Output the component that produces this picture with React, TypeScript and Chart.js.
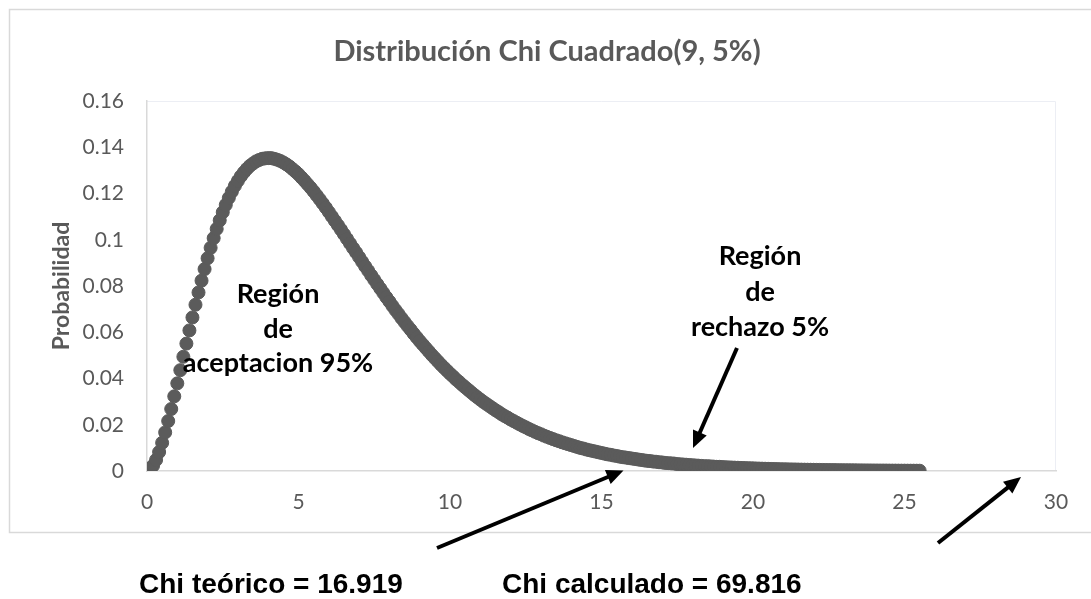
import React, { useEffect, useRef } from 'react';
import { Chart, registerables } from 'chart.js';

Chart.register(...registerables);

// ---------- data ----------
const X_VALUES = [
  0, 0.1, 0.2, 0.3, 0.4, 0.5, 0.6, 0.7, 0.8, 0.9,
  1, 1.1, 1.2, 1.3, 1.4, 1.5, 1.6, 1.7, 1.8, 1.9,
  2, 2.1, 2.2, 2.3, 2.4, 2.5, 2.6, 2.7, 2.8, 2.9,
  3, 3.1, 3.2, 3.3, 3.4, 3.5, 3.6, 3.7, 3.8, 3.9,
  4, 4.1, 4.2, 4.3, 4.4, 4.5, 4.6, 4.7, 4.8, 4.9,
  5, 5.1, 5.2, 5.3, 5.4, 5.5, 5.6, 5.7, 5.8, 5.9,
  6, 6.1, 6.2, 6.3, 6.4, 6.5, 6.6, 6.7, 6.8, 6.9,
  7, 7.1, 7.2, 7.3, 7.4, 7.5, 7.6, 7.7, 7.8, 7.9,
  8, 8.1, 8.2, 8.3, 8.4, 8.5, 8.6, 8.7, 8.8, 8.9,
  9, 9.1, 9.2, 9.3, 9.4, 9.5, 9.6, 9.7, 9.8, 9.9,
  10, 10.1, 10.2, 10.3, 10.4, 10.5, 10.6, 10.7, 10.8, 10.9,
  11, 11.1, 11.2, 11.3, 11.4, 11.5, 11.6, 11.7, 11.8, 11.9,
  12, 12.1, 12.2, 12.3, 12.4, 12.5, 12.6, 12.7, 12.8, 12.9,
  13, 13.1, 13.2, 13.3, 13.4, 13.5, 13.6, 13.7, 13.8, 13.9,
  14, 14.1, 14.2, 14.3, 14.4, 14.5, 14.6, 14.7, 14.8, 14.9,
  15, 15.1, 15.2, 15.3, 15.4, 15.5, 15.6, 15.7, 15.8, 15.9,
  16, 16.1, 16.2, 16.3, 16.4, 16.5, 16.6, 16.7, 16.8, 16.9,
  17, 17.1, 17.2, 17.3, 17.4, 17.5, 17.6, 17.7, 17.8, 17.9,
  18, 18.1, 18.2, 18.3, 18.4, 18.5, 18.6, 18.7, 18.8, 18.9,
  19, 19.1, 19.2, 19.3, 19.4, 19.5, 19.6, 19.7, 19.8, 19.9,
  20, 20.1, 20.2, 20.3, 20.4, 20.5, 20.6, 20.7, 20.8, 20.9,
  21, 21.1, 21.2, 21.3, 21.4, 21.5, 21.6, 21.7, 21.8, 21.9,
  22, 22.1, 22.2, 22.3, 22.4, 22.5, 22.6, 22.7, 22.8, 22.9,
  23, 23.1, 23.2, 23.3, 23.4, 23.5, 23.6, 23.7, 23.8, 23.9,
  24, 24.1, 24.2, 24.3, 24.4, 24.5, 24.6, 24.7, 24.8, 24.9,
  25, 25.1, 25.2, 25.3, 25.4, 25.5,
];

const Y_VALUES = [
  0, 0.0006, 0.0023, 0.0048, 0.0082, 0.0122, 0.0167, 0.0216, 0.0268, 0.0323,
  0.0379, 0.0436, 0.0494, 0.0551, 0.0608, 0.0664, 0.0719, 0.0772, 0.0823, 0.0873,
  0.092, 0.0965, 0.1007, 0.1047, 0.1084, 0.1119, 0.1151, 0.1181, 0.1208, 0.1233,
  0.1255, 0.1275, 0.1292, 0.1307, 0.132, 0.133, 0.1339, 0.1345, 0.135, 0.1352,
  0.1353, 0.1353, 0.135, 0.1346, 0.1341, 0.1334, 0.1326, 0.1317, 0.1306, 0.1295,
  0.1283, 0.1269, 0.1255, 0.124, 0.1225, 0.1209, 0.1192, 0.1175, 0.1157, 0.1139,
  0.112, 0.1101, 0.1082, 0.1063, 0.1044, 0.1024, 0.1004, 0.0984, 0.0964, 0.0945,
  0.0925, 0.0905, 0.0885, 0.0866, 0.0846, 0.0827, 0.0808, 0.0789, 0.077, 0.0751,
  0.0733, 0.0714, 0.0696, 0.0679, 0.0661, 0.0644, 0.0627, 0.0611, 0.0594, 0.0578,
  0.0562, 0.0547, 0.0532, 0.0517, 0.0502, 0.0488, 0.0474, 0.046, 0.0447, 0.0434,
  0.0421, 0.0409, 0.0396, 0.0385, 0.0373, 0.0362, 0.0351, 0.034, 0.0329, 0.0319,
  0.0309, 0.0299, 0.029, 0.0281, 0.0272, 0.0263, 0.0255, 0.0246, 0.0238, 0.0231,
  0.0223, 0.0216, 0.0209, 0.0202, 0.0195, 0.0189, 0.0182, 0.0176, 0.017, 0.0164,
  0.0159, 0.0153, 0.0148, 0.0143, 0.0138, 0.0133, 0.0129, 0.0124, 0.012, 0.0116,
  0.0112, 0.0108, 0.0104, 0.01, 0.0097, 0.0093, 0.009, 0.0087, 0.0084, 0.0081,
  0.0078, 0.0075, 0.0072, 0.007, 0.0067, 0.0065, 0.0062, 0.006, 0.0058, 0.0056,
  0.0054, 0.0052, 0.005, 0.0048, 0.0046, 0.0044, 0.0043, 0.0041, 0.004, 0.0038,
  0.0037, 0.0035, 0.0034, 0.0033, 0.0032, 0.003, 0.0029, 0.0028, 0.0027, 0.0026,
  0.0025, 0.0024, 0.0023, 0.0022, 0.0021, 0.0021, 0.002, 0.0019, 0.0018, 0.0018,
  0.00169, 0.00162, 0.00156, 0.0015, 0.00144, 0.00139, 0.00133, 0.00128, 0.00123, 0.00118,
  0.00114, 0.00109, 0.00105, 0.00101, 0.00097, 0.00093, 0.00089, 0.00086, 0.00082, 0.00079,
  0.00076, 0.00073, 0.0007, 0.00067, 0.00065, 0.00062, 0.00059, 0.00057, 0.00055, 0.00053,
  0.00051, 0.00048, 0.00047, 0.00045, 0.00043, 0.00041, 0.00039, 0.00038, 0.00036, 0.00035,
  0.00033, 0.00032, 0.00031, 0.0003, 0.00028, 0.00027, 0.00026, 0.00025, 0.00024, 0.00023,
  0.00022, 0.00021, 0.0002, 0.0002, 0.00019, 0.00018, 0.00017, 0.00017, 0.00016, 0.00015,
  0.00015, 0.00014, 0.00013, 0.00013, 0.00012, 0.00012,
];

const X_TICK_LABELS = ['0', '5', '10', '15', '20', '25', '30'];
const Y_TICK_LABELS = ['0', '0.02', '0.04', '0.06', '0.08', '0.1', '0.12', '0.14', '0.16'];

const TITLE = 'Distribución Chi Cuadrado(9, 5%)';
const Y_AXIS_TITLE = 'Probabilidad';
const ACCEPT_LINES = ['Región', 'de', 'aceptacion 95%'];
const REJECT_LINES = ['Región', 'de', 'rechazo 5%'];
const CHI_TEORICO = 'Chi teórico = 16.919';
const CHI_CALCULADO = 'Chi calculado = 69.816';

// ---------- drawing helpers ----------
const GRAY_TEXT = '#595959';
const MARK = '#5b5b5b';
const CAL = 'Lato, "Open Sans", sans-serif';

function drawArrow(ctx: CanvasRenderingContext2D, x1: number, y1: number, x2: number, y2: number) {
  const ang = Math.atan2(y2 - y1, x2 - x1);
  const hl = 17;
  const hw = 7.5;
  const bx = x2 - hl * Math.cos(ang);
  const by = y2 - hl * Math.sin(ang);
  ctx.save();
  ctx.strokeStyle = '#000';
  ctx.fillStyle = '#000';
  ctx.lineWidth = 4;
  ctx.lineCap = 'butt';
  ctx.beginPath();
  ctx.moveTo(x1, y1);
  ctx.lineTo(bx + 2 * Math.cos(ang), by + 2 * Math.sin(ang));
  ctx.stroke();
  ctx.beginPath();
  ctx.moveTo(x2, y2);
  ctx.lineTo(bx + hw * Math.sin(ang), by - hw * Math.cos(ang));
  ctx.lineTo(bx - hw * Math.sin(ang), by + hw * Math.cos(ang));
  ctx.closePath();
  ctx.fill();
  ctx.restore();
}

const decorPlugin = {
  id: 'decor',
  beforeDraw(chart: any) {
    const { ctx, chartArea } = chart;
    ctx.save();
    ctx.fillStyle = '#ffffff';
    ctx.fillRect(0, 0, chart.width, chart.height);
    // outer chart border (continues past the right edge)
    ctx.strokeStyle = '#d9d9d9';
    ctx.lineWidth = 1.5;
    ctx.beginPath();
    ctx.moveTo(1095, 9.5);
    ctx.lineTo(9.5, 9.5);
    ctx.lineTo(9.5, 532.5);
    ctx.lineTo(1095, 532.5);
    ctx.stroke();
    // faint plot-area frame
    ctx.strokeStyle = '#eceef4';
    ctx.lineWidth = 1;
    ctx.beginPath();
    ctx.moveTo(chartArea.left, chartArea.top + 0.5);
    ctx.lineTo(chartArea.right - 0.5, chartArea.top + 0.5);
    ctx.lineTo(chartArea.right - 0.5, chartArea.bottom);
    ctx.stroke();
    ctx.restore();
  },
  afterDraw(chart: any) {
    const { ctx, chartArea } = chart;
    ctx.save();
    // title
    ctx.fillStyle = GRAY_TEXT;
    ctx.font = `bold 29px ${CAL}`;
    ctx.textAlign = 'center';
    ctx.textBaseline = 'alphabetic';
    ctx.fillText(TITLE, 547, 61);

    // y axis title
    ctx.save();
    ctx.translate(62, (chartArea.top + chartArea.bottom) / 2);
    ctx.rotate(-Math.PI / 2);
    ctx.font = `bold 23px ${CAL}`;
    ctx.textBaseline = 'middle';
    ctx.fillText(Y_AXIS_TITLE, 0, 0);
    ctx.restore();

    // region labels
    ctx.fillStyle = '#000';
    ctx.font = `bold 27px ${CAL}`;
    ctx.textAlign = 'center';
    ctx.textBaseline = 'alphabetic';
    const acceptBase = [303, 338, 372];
    ACCEPT_LINES.forEach((t, i) => ctx.fillText(t, 278, acceptBase[i]));
    const rejectBase = [265, 300.5, 336];
    REJECT_LINES.forEach((t, i) => ctx.fillText(t, 760, rejectBase[i]));

    // arrows
    drawArrow(ctx, 437, 548, 623.5, 470.5);
    drawArrow(ctx, 737, 348, 693, 448);
    drawArrow(ctx, 938, 543, 1021, 477);

    // bottom texts
    ctx.font = 'bold 28px "Liberation Sans", Arial, sans-serif';
    ctx.textAlign = 'left';
    ctx.fillStyle = '#000';
    ctx.fillText(CHI_TEORICO, 139, 593);
    ctx.fillText(CHI_CALCULADO, 502, 593);
    ctx.restore();
  },
};

export default function App() {
  const canvasRef = useRef<HTMLCanvasElement | null>(null);

  useEffect(() => {
    const canvas = canvasRef.current;
    if (!canvas) return;
    const points = X_VALUES.map((x, i) => ({ x, y: Y_VALUES[i] }));
    const chart = new Chart(canvas, {
      type: 'scatter',
      data: {
        datasets: [
          {
            data: points,
            pointRadius: 6.5,
            pointHoverRadius: 6.5,
            pointBackgroundColor: MARK,
            pointBorderColor: MARK,
            pointBorderWidth: 1,
            showLine: false,
          },
        ],
      },
      options: {
        responsive: false,
        animation: false,
        devicePixelRatio: 1,
        events: [],
        layout: { padding: { top: 101, right: 35, left: 0, bottom: 0 } },
        plugins: {
          legend: { display: false },
          tooltip: { enabled: false },
          title: { display: false },
        },
        scales: {
          x: {
            type: 'linear',
            min: 0,
            max: 30,
            grid: { display: false, drawTicks: false },
            border: { display: true, color: '#d9d9d9', width: 1.5 },
            ticks: {
              stepSize: 5,
              color: GRAY_TEXT,
              font: { family: CAL, size: 21 },
              padding: 19,
              maxRotation: 0,
              callback: (_v: any, i: number) => X_TICK_LABELS[i],
            },
            afterFit: (s: any) => {
              s.height = 128;
            },
          },
          y: {
            type: 'linear',
            min: 0,
            max: 0.16,
            grid: { display: false, drawTicks: false },
            border: { display: true, color: '#d9d9d9', width: 1.5 },
            ticks: {
              stepSize: 0.02,
              color: GRAY_TEXT,
              font: { family: CAL, size: 21 },
              padding: 23,
              callback: (_v: any, i: number) => Y_TICK_LABELS[i],
            },
            afterFit: (s: any) => {
              s.width = 147;
            },
          },
        },
      },
      plugins: [decorPlugin],
    });
    return () => chart.destroy();
  }, []);

  return (
    <div style={{ position: 'absolute', left: 0, top: 0, width: 1091, height: 599, background: '#fff' }}>
      <canvas ref={canvasRef} width={1091} height={599} style={{ display: 'block', width: 1091, height: 599 }} />
    </div>
  );
}
